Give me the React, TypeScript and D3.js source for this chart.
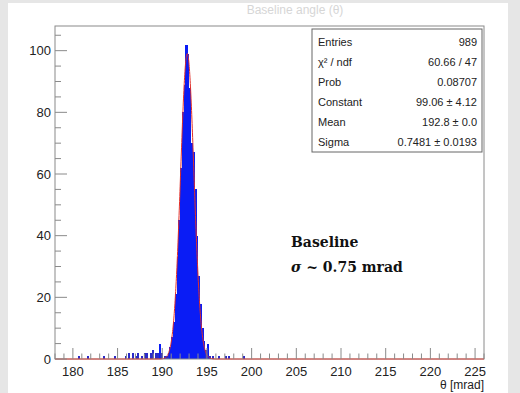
import React from 'react';
import * as d3 from 'd3';

// histogram: 0.2 mrad bins, range 178..226
const binWidth = 0.2;
const xDomain: [number, number] = [178, 226];
const yDomain: [number, number] = [0, 108];

// main peak, consecutive bins starting at 189.2
const peakStart = 189.2;
const peakCounts = [
  2, 2, 5, 2, 0, 1, 1, 2, 4, 7, 12, 21, 33, 45, 62, 80, 89, 102, 99, 88, 70, 67, 55, 40, 27, 18, 10, 6, 3, 5, 1,
];

// isolated tail bins (low edge, count)
const tailTheta = [180.6, 181.6, 183.4, 184.6, 185.8, 186.2, 186.6, 187.0, 187.2, 187.6, 188.0, 188.2, 188.6, 188.8, 195.6, 196.2, 197.0, 197.4, 199.0];
const tailCounts = [1, 1, 1, 1, 1, 2, 2, 1, 2, 1, 2, 2, 2, 3, 1, 1, 1, 1, 1];

// fit parameters
const fitConstant = 99.06;
const fitMean = 192.8;
const fitSigma = 0.7481;

const statNames = ['Entries', 'χ² / ndf', 'Prob', 'Constant', 'Mean', 'Sigma'];
const statValues = ['989', '60.66 / 47', '0.08707', '99.06 ± 4.12', '192.8 ± 0.0', '0.7481 ± 0.0193'];

const xMajor = [180, 185, 190, 195, 200, 205, 210, 215, 220, 225];
const yMajor = [0, 20, 40, 60, 80, 100];

const W = 520;
const H = 393;
const m = { left: 55, right: 484, top: 26, bottom: 359 };

export default function App() {
  const x = d3.scaleLinear().domain(xDomain).range([m.left, m.right]);
  const y = d3.scaleLinear().domain(yDomain).range([m.bottom, m.top]);

  const bins = [
    ...peakCounts.map((c, i) => ({ lo: peakStart + i * binWidth, c })),
    ...tailTheta.map((t, i) => ({ lo: t, c: tailCounts[i] })),
  ].filter(b => b.c > 0);

  const fitPts = d3.range(xDomain[0], xDomain[1] + 0.001, 0.02).map(t => [
    t,
    fitConstant * Math.exp(-0.5 * ((t - fitMean) / fitSigma) ** 2),
  ]);
  const fitLine = d3.line<number[]>().x(d => x(d[0])).y(d => y(Math.min(d[1], yDomain[1])));

  const xMinor = d3.range(178, 226.01, 1);
  const yMinor = d3.range(0, 106, 5);
  const font = 'Liberation Sans, Arial, sans-serif';
  const grid = '#8a8a8a';

  return (
    <div style={{ position: 'fixed', left: 0, top: 0, width: W, height: H }}>
      <svg width={W} height={H} style={{ display: 'block' }}>
        <rect x={0} y={0} width={W} height={H} fill="#e6e6e6" />
        <rect x={8} y={3} width={500} height={H - 3} fill="#fff" />
        <text x={295} y={14} textAnchor="middle" fontFamily={font} fontSize={12} fill="#d6d6d6">
          Baseline angle (θ)
        </text>

        {/* histogram */}
        <g shapeRendering="crispEdges">
          {bins.map((b, i) => (
            <rect
              key={i}
              x={x(b.lo)}
              y={y(b.c)}
              width={x(b.lo + binWidth) - x(b.lo) + 0.3}
              height={y(0) - y(b.c)}
              fill={b.c <= 3 ? '#2a2ac8' : '#0a1cf5'}
            />
          ))}
        </g>

        {/* frame */}
        <rect x={m.left} y={m.top} width={m.right - m.left} height={m.bottom - m.top} fill="none" stroke={grid} strokeWidth={1} />

        {/* fit */}
        <path d={fitLine(fitPts) || ''} fill="none" stroke="#e0302a" strokeWidth={1} />

        {/* x ticks */}
        {xMinor.map(t => (
          <line key={'xm' + t} x1={x(t)} x2={x(t)} y1={m.bottom} y2={m.bottom - (t % 5 === 0 ? 11 : 5.5)} stroke={grid} />
        ))}
        {xMajor.map(t => (
          <text key={'xl' + t} x={x(t)} y={376} textAnchor="middle" fontFamily={font} fontSize={13} fill="#222">
            {t}
          </text>
        ))}
        <text x={m.right} y={389} textAnchor="end" fontFamily={font} fontSize={12} fill="#222">
          θ [mrad]
        </text>

        {/* y ticks */}
        {yMinor.map(t => (
          <line key={'ym' + t} x1={m.left} x2={m.left + (t % 20 === 0 ? 12 : 6)} y1={y(t)} y2={y(t)} stroke={grid} />
        ))}
        {yMajor.map(t => (
          <text key={'yl' + t} x={m.left - 4} y={y(t) + 4.5} textAnchor="end" fontFamily={font} fontSize={13} fill="#222">
            {t}
          </text>
        ))}

        {/* stats box */}
        <rect x={312} y={29} width={170} height={123} fill="#fff" stroke="#666" strokeWidth={1} />
        {statNames.map((s, i) => (
          <g key={s}>
            <text x={318} y={46 + i * 20} fontFamily={font} fontSize={11} fill="#222">
              {s}
            </text>
            <text x={477} y={46 + i * 20} textAnchor="end" fontFamily={font} fontSize={11} fill="#222">
              {statValues[i]}
            </text>
          </g>
        ))}

        {/* annotation */}
        <text x={291} y={247} fontFamily="DejaVu Serif, serif" fontWeight="bold" fontSize={14} fill="#111">
          Baseline
        </text>
        <text x={291} y={272} fontFamily="DejaVu Serif, serif" fontWeight="bold" fontSize={14} fill="#111">
          <tspan fontStyle="italic">σ</tspan> ~ 0.75 mrad
        </text>
      </svg>
    </div>
  );
}
